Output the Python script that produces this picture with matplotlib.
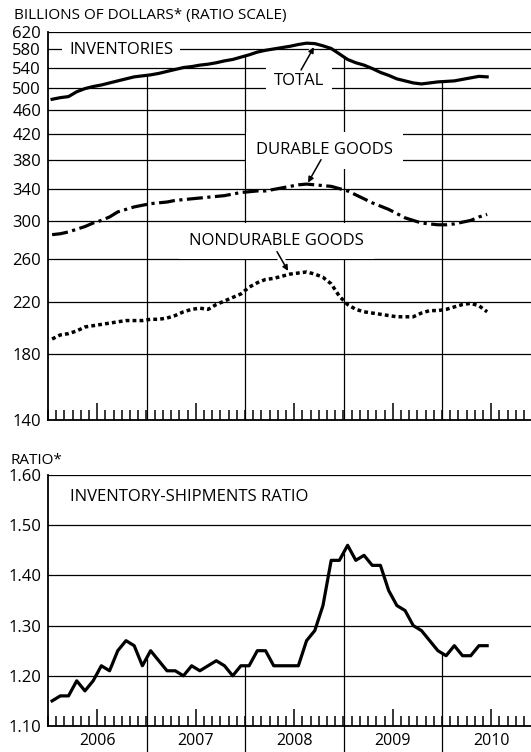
import numpy as np
import matplotlib.pyplot as plt
from matplotlib.ticker import FixedLocator, NullLocator

plt.rcParams['font.family'] = ['Open Sans', 'DejaVu Sans']

# monthly values, Jan 2006 - Jun 2010 (billions of dollars)
total = [479, 482, 484, 493, 499, 503, 506, 510, 514, 518, 522, 524,
         526, 529, 533, 537, 541, 543, 546, 548, 551, 555, 558, 563,
         568, 574, 578, 581, 584, 587, 591, 594, 593, 588, 582, 570,
         558, 551, 546, 539, 531, 525, 518, 514, 510, 508, 510, 512,
         513, 514, 517, 520, 523, 522]
durable = [285, 286, 288, 291, 294, 298, 301, 305, 311, 314, 317, 319,
           321, 322, 323, 325, 326, 327, 328, 329, 330, 331, 333, 335,
           336, 337, 337, 339, 341, 343, 345, 346, 345, 344, 343, 340,
           337, 332, 327, 322, 318, 314, 309, 304, 301, 298, 297, 296,
           296, 297, 299, 301, 305, 308]
nondurable = [191, 194, 195, 197, 200, 201, 202, 203, 204, 205, 205, 205,
              206, 206, 207, 209, 212, 214, 215, 214, 218, 221, 224, 227,
              233, 237, 240, 241, 243, 245, 246, 247, 245, 242, 236, 225,
              218, 214, 212, 211, 210, 209, 208, 208, 208, 211, 213, 213,
              214, 216, 218, 219, 217, 212]
# inventory-shipments ratio
ratio = [1.15, 1.16, 1.16, 1.19, 1.17, 1.19, 1.22, 1.21, 1.25, 1.27, 1.26, 1.22,
         1.25, 1.23, 1.21, 1.21, 1.20, 1.22, 1.21, 1.22, 1.23, 1.22, 1.20, 1.22,
         1.22, 1.25, 1.25, 1.22, 1.22, 1.22, 1.22, 1.27, 1.29, 1.34, 1.43, 1.43,
         1.46, 1.43, 1.44, 1.42, 1.42, 1.37, 1.34, 1.33, 1.30, 1.29, 1.27, 1.25,
         1.24, 1.26, 1.24, 1.24, 1.26, 1.26]

inv_ticks = [140, 180, 220, 260, 300, 340, 380, 420, 460, 500, 540, 580, 620]
ratio_ticks = [1.10, 1.20, 1.30, 1.40, 1.50, 1.60]
years = [2006, 2007, 2008, 2009, 2010]

months = 2006 + (np.arange(len(total)) + 0.5) / 12
x_end = 2006 + 483 / 98.5

fig = plt.figure(figsize=(5.31, 7.52), dpi=100)
ax1 = fig.add_axes([48 / 531, 1 - 420 / 752, 1 - 48 / 531, 388 / 752])
ax2 = fig.add_axes([48 / 531, 1 - 726 / 752, 1 - 48 / 531, 251 / 752])


def style(ax):
    ax.set_xlim(2006, x_end)
    for s in ['top', 'right']:
        ax.spines[s].set_visible(False)
    for s in ['left', 'bottom']:
        ax.spines[s].set_linewidth(1.3)
    ax.xaxis.set_major_locator(FixedLocator([y + 0.5 for y in years]))
    ax.xaxis.set_minor_locator(FixedLocator(np.arange(2006, 2011, 1 / 12)))
    ax.tick_params(axis='x', which='major', direction='in', length=12, width=1.1)
    ax.tick_params(axis='x', which='minor', direction='in', length=7, width=1.1)
    ax.tick_params(axis='y', length=0, pad=5, labelsize=12)
    ax.grid(axis='y', color='black', lw=0.9)
    ax.set_axisbelow(True)


# ---- top panel: inventories
style(ax1)
ax1.set_yscale('log')
ax1.set_ylim(140, 620)
ax1.yaxis.set_major_locator(FixedLocator(inv_ticks))
ax1.yaxis.set_minor_locator(NullLocator())
ax1.set_yticklabels([str(v) for v in inv_ticks])
ax1.set_xticklabels([])

ax1.plot(months, total, color='black', lw=2.3, zorder=4)
ax1.plot(months, durable, color='black', lw=2.3, dashes=(5, 1.4, 1, 1.4),
         dash_capstyle='butt', zorder=4)
ax1.plot(months, nondurable, color='black', lw=2.5, dashes=(1.1, 0.9),
         dash_capstyle='butt', zorder=4)

for y in years[1:]:
    ax1.vlines(y, 140, np.interp(y, months, total), color='black', lw=0.9, zorder=2)

lab = dict(fontsize=12, va='center', zorder=3)
ax1.text(2006.213, 579, 'INVENTORIES', ha='left',
         bbox=dict(boxstyle='square,pad=0.4', fc='white', ec='none'), **lab)
ax1.text(2008.55, 514, 'TOTAL', ha='center',
         bbox=dict(boxstyle='square,pad=0.45', fc='white', ec='none'), **lab)
ax1.text(2008.807, 394, 'DURABLE GOODS', ha='center',
         bbox=dict(boxstyle='square,pad=0.62', fc='white', ec='none'), **lab)
ax1.text(2008.32, 278, 'NONDURABLE GOODS', ha='center',
         bbox=dict(boxstyle='square,pad=0.58', fc='white', ec='none'), **lab)

arrows = [((2008.569, 536), (2008.70, 585)),
          ((2008.772, 380), (2008.640, 348)),
          ((2008.325, 267), (2008.437, 248))]
for tail, tip in arrows:
    ax1.annotate('', xy=tip, xytext=tail, zorder=3,
                 arrowprops=dict(arrowstyle='-', color='white', lw=5,
                                 shrinkA=0, shrinkB=4))
    ax1.annotate('', xy=tip, xytext=tail, zorder=5,
                 arrowprops=dict(arrowstyle='-|>', color='black', lw=1.1,
                                 mutation_scale=8, shrinkA=0, shrinkB=0))

# ---- bottom panel: inventory-shipments ratio
style(ax2)
ax2.set_ylim(1.10, 1.60)
ax2.yaxis.set_major_locator(FixedLocator(ratio_ticks))
ax2.set_yticklabels(['%.2f' % v for v in ratio_ticks])
ax2.set_xticklabels([str(y) for y in years], fontsize=11.5)
ax2.tick_params(axis='x', which='major', pad=5)

ax2.plot(months, ratio, color='black', lw=2.3, zorder=4)
for y in years[1:]:
    ax2.vlines(y, 1.04, np.interp(y, months, ratio), color='black', lw=0.9,
               zorder=2, clip_on=False)

ax2.text(2006.223, 1.556, 'INVENTORY-SHIPMENTS RATIO', ha='left', va='center',
         fontsize=12)

fig.text(14 / 531, 1 - 15 / 752, 'BILLIONS OF DOLLARS* (RATIO SCALE)',
         ha='left', va='center', fontsize=11)
fig.text(10 / 531, 1 - 460 / 752, 'RATIO*', ha='left', va='center', fontsize=11)

fig.savefig('out.png', dpi=100)
